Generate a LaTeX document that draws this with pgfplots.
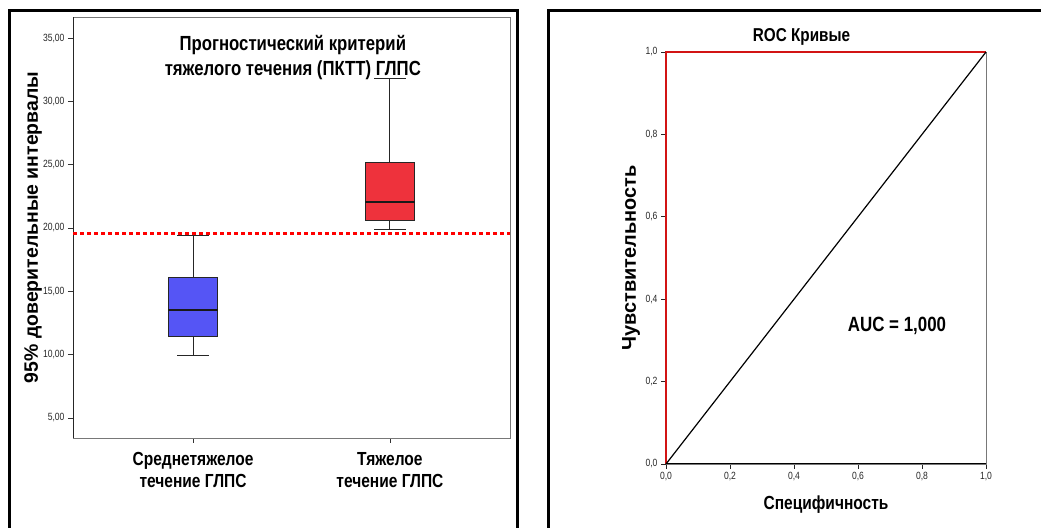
\documentclass[border=0pt]{standalone}
\usepackage{pgfplots}
\pgfplotsset{compat=1.18}
\usepackage{fontspec}
\setmainfont{Liberation Sans}
\newfontfamily\narrow{Liberation Sans}[FakeStretch=0.82]
\definecolor{boxblue}{RGB}{85,85,245}
\definecolor{boxred}{RGB}{238,50,60}
\definecolor{framegray}{RGB}{120,120,120}
\definecolor{roc}{RGB}{210,20,20}
\begin{document}
\begin{tikzpicture}
\useasboundingbox (0bp,0bp) rectangle (1041bp,528bp);
\clip (0bp,0bp) rectangle (1041bp,528bp);
\draw[line width=3bp] (9bp,-10bp) -- (9bp,517bp) -- (517bp,517bp) -- (517bp,-10bp);
\draw[line width=3bp] (548bp,-10bp) -- (548bp,517bp) -- (1060bp,517bp);

% ---------- left: box plots ----------
\begin{axis}[
  at={(73bp,90bp)}, anchor=south west, scale only axis,
  width=437bp, height=421bp,
  xmin=0.39, xmax=2.61, ymin=3.42, ymax=36.66,
  xtick={1,2},
  xticklabels={{Среднетяжелое\\течение ГЛПС},{Тяжелое\\течение ГЛПС}},
  ytick={5,10,15,20,25,30,35},
  xtick pos=left, ytick pos=left,
  tick align=outside, major tick length=5bp,
  tick style={black!80, line width=0.8bp},
  axis line style={framegray, line width=0.8bp},
  xticklabel style={font=\narrow\bfseries\fontsize{19}{22}\selectfont, align=center, yshift=-6bp},
  yticklabel style={font=\narrow\fontsize{10.5}{11}\selectfont, text=black!85,
    /pgf/number format/fixed, /pgf/number format/fixed zerofill,
    /pgf/number format/precision=2, /pgf/number format/use comma,
    /pgf/number format/assume math mode=true},
  ylabel={95\% доверительные интервалы},
  ylabel style={font=\bfseries\fontsize{19.5}{22}\selectfont, at={(axis description cs:-0.0915,0.5)}, anchor=center},
  clip=false,
]
\draw[black!85, line width=0.9bp] (rel axis cs:0,0) -- (rel axis cs:0,1);
% group 1 (blue)
\addplot[black!85, line width=1bp] coordinates {(1,9.93) (1,19.37)};
\addplot[black!85, line width=1bp] coordinates {(0.92,9.93) (1.08,9.93)};
\addplot[black!85, line width=1bp] coordinates {(0.92,19.37) (1.08,19.37)};
\addplot[draw=black!85, fill=boxblue, line width=1bp] coordinates {(0.875,11.47) (1.125,11.47) (1.125,16.1) (0.875,16.1) (0.875,11.47)};
\addplot[black!90, line width=1.4bp] coordinates {(0.875,13.53) (1.125,13.53)};
% group 2 (red)
\addplot[black!85, line width=1bp] coordinates {(2,19.9) (2,31.8)};
\addplot[black!85, line width=1bp] coordinates {(1.92,19.9) (2.08,19.9)};
\addplot[black!85, line width=1bp] coordinates {(1.92,31.8) (2.08,31.8)};
\addplot[draw=black!85, fill=boxred, line width=1bp] coordinates {(1.875,20.6) (2.125,20.6) (2.125,25.2) (1.875,25.2) (1.875,20.6)};
\addplot[black!90, line width=1.4bp] coordinates {(1.875,22.05) (2.125,22.05)};
% threshold
\addplot[red, line width=3bp, dash pattern=on 4bp off 3bp] coordinates {(0.39,19.6) (2.61,19.6)};
\node[font=\narrow\bfseries\fontsize{20.5}{24.5}\selectfont, align=center, anchor=north]
  at (rel axis cs:0.503,1) [yshift=-15bp] {Прогностический критерий\\тяжелого течения (ПКТТ) ГЛПС};
\end{axis}

% ---------- right: ROC ----------
\begin{axis}[
  at={(666bp,64bp)}, anchor=south west, scale only axis,
  width=320bp, height=412bp,
  xmin=0, xmax=1, ymin=0, ymax=1,
  xtick={0,0.2,0.4,0.6,0.8,1}, ytick={0,0.2,0.4,0.6,0.8,1},
  xtick pos=left, ytick pos=left,
  tick align=outside, major tick length=5bp,
  tick style={black!85, line width=0.8bp},
  axis line style={framegray, line width=0.8bp},
  ticklabel style={font=\narrow\fontsize{10.5}{11}\selectfont, text=black!85,
    /pgf/number format/fixed, /pgf/number format/fixed zerofill,
    /pgf/number format/precision=1, /pgf/number format/use comma,
    /pgf/number format/assume math mode=true},
  xlabel={Специфичность},
  xlabel style={font=\narrow\bfseries\fontsize{19}{21}\selectfont, at={(axis description cs:0.5,-0.0995)}, anchor=center},
  ylabel={Чувствительность},
  ylabel style={font=\bfseries\fontsize{20}{23}\selectfont, at={(axis description cs:-0.109,0.5)}, anchor=center},
  clip=false,
]
\draw[black, line width=1bp] (rel axis cs:0,0) -- (rel axis cs:1,0);
\draw[black, line width=1bp] (rel axis cs:0,0) -- (rel axis cs:0,1);
\addplot[roc, line width=2bp] coordinates {(0,0) (0,1) (1,1)};
\addplot[black, line width=1.2bp] coordinates {(0,0) (1,1)};
\node[font=\narrow\bfseries\fontsize{20.7}{23}\selectfont] at (axis cs:0.722,0.335) {AUC = 1,000};
\end{axis}
\node[font=\narrow\bfseries\fontsize{18.7}{21}\selectfont] at (801.5bp,491bp) {ROC Кривые};
\end{tikzpicture}
\end{document}
